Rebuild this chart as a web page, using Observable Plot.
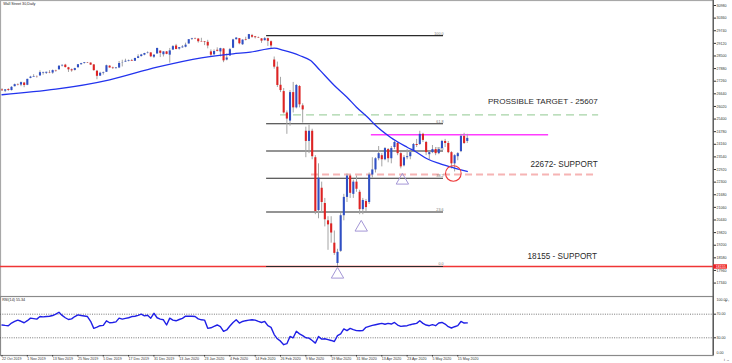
<!DOCTYPE html>
<html><head><meta charset="utf-8">
<script src="https://cdn.jsdelivr.net/npm/d3@7"></script>
<script src="https://cdn.jsdelivr.net/npm/@observablehq/plot@0.6"></script>
<style>
html,body{margin:0;padding:0;background:#fff;}
#chart{position:relative;width:732px;height:363px;overflow:hidden;}
#chart svg{display:block;}
</style></head><body><div id="chart"></div>
<script>
// ---------------- data ----------------
const title = "Wall Street 30,Daily";
const dateLabels = ["22 Oct 2019","1 Nov 2019","13 Nov 2019","25 Nov 2019","5 Dec 2019","17 Dec 2019","31 Dec 2019","13 Jan 2020","23 Jan 2020","4 Feb 2020","14 Feb 2020","26 Feb 2020","9 Mar 2020","19 Mar 2020","31 Mar 2020","13 Apr 2020","23 Apr 2020","5 May 2020","15 May 2020"];
const dateBars = [0,8,16,24,32,40,48,56,64,72,80,88,96,104,112,120,128,136,144];
const priceTicks = [30980,30360,29740,29120,28500,27880,27260,26640,26020,25400,24780,24160,23540,22920,22300,21680,21060,20440,19820,19200,18580,17960,17340];

const open = [26830,26770,26850,26800,26990,27090,27070,27170,27060,27400,
27460,27490,27520,27660,27650,27690,27660,27780,27820,28010,
28050,27920,27820,27790,27920,28070,28130,28165,28150,28060,
27750,27510,27650,27700,28000,27910,27880,27910,28140,28200,
28240,28270,28240,28380,28470,28540,28630,28650,28440,28600,
28740,28560,28700,28540,28790,28990,28840,28900,28930,29090,
29320,29350,29330,29210,29190,29170,28700,28560,28780,28700,
28840,28300,28500,28880,29300,29350,29050,29300,29320,29500,
29440,29400,29340,29250,29350,29200,28300,27950,27060,26750,
25700,25300,26700,25950,27000,26050,24800,24300,24800,23500,
20900,22000,21250,20400,20250,19300,18300,18900,20650,21550,
22600,21700,22300,21800,20950,21350,21300,22650,22900,23450,
23600,23400,23900,23450,24000,24200,23700,23100,23500,23550,
23850,24150,24150,24650,24250,23650,23750,23900,23700,23950,
24300,24200,23750,23200,23550,23800,24550,24300];
const high = [26890,26850,26890,26990,27120,27130,27220,27200,27360,27500,
27580,27520,27770,27700,27700,27780,27810,27800,28010,28060,
28090,27940,27860,27900,28080,28140,28180,28180,28160,28080,
27790,27700,27710,28050,28020,27950,27930,28230,28290,28340,
28300,28330,28380,28560,28580,28630,28700,28660,28560,28880,
28750,28710,28720,28870,29010,29070,28910,29010,29130,29300,
29370,29380,29360,29370,29210,29270,28800,28800,28900,28880,
28870,28600,28870,29320,29400,29360,29290,29420,29560,29560,
29460,29430,29350,29410,29380,29240,28450,28200,27450,26900,
25800,26800,27200,27100,27050,26150,25000,25100,24900,23600,
23200,22300,21500,20600,20600,19900,19000,20750,21700,22700,
22650,22400,22600,21900,21500,21450,22750,23500,23500,24050,
23700,24000,23950,24050,24300,24250,23750,23600,23900,23800,
24200,24400,24800,24700,24300,23800,24100,24000,24000,24350,
24400,24300,23800,23650,23750,24650,24700,24650];
const low = [26760,26700,26760,26780,26980,27030,26990,26940,27040,27380,
27460,27410,27500,27560,27590,27630,27600,27700,27810,27960,
27910,27690,27700,27760,27910,28050,28100,28130,28040,27750,
27330,27490,27560,27690,27900,27840,27850,27880,27960,28190,
28210,28230,28230,28370,28450,28510,28600,28420,28380,28580,
28420,28450,28560,28150,28780,28800,28790,28880,28900,29080,
29260,29300,29130,29180,29010,28850,28450,28510,28700,28450,
28170,28260,28480,28860,29280,29050,29020,29240,29300,29370,
29340,29360,29120,29240,28970,28850,27850,26950,26700,25650,
24650,25050,25700,25900,25950,25200,23500,23700,23400,20700,
20500,20800,20100,18950,19300,18700,18155,18850,20400,21300,
21500,21500,21800,20700,20700,20850,21200,22500,22750,23350,
23050,23350,23250,23200,23900,23600,22950,23050,23400,23400,
23800,24000,24100,24250,23600,23400,23700,23600,23650,23900,
24000,23700,22950,22800,23350,23750,24150,24200];
const close = [26790,26835,26805,26960,27090,27070,27190,27050,27350,27460,
27490,27480,27680,27690,27700,27670,27780,27760,28000,28040,
27930,27820,27770,27880,28070,28120,28165,28150,28050,27780,
27500,27650,27680,28020,27910,27880,27910,28130,28150,28240,
28270,28240,28380,28460,28550,28620,28650,28460,28540,28870,
28630,28700,28580,28750,28960,28820,28910,28940,29030,29300,
29350,29330,29200,29190,29160,28990,28540,28720,28730,28860,
28260,28400,28810,29290,29380,29100,29280,29270,29550,29420,
29400,29380,29230,29350,29220,28990,27950,27050,26800,25700,
25400,26700,25950,27050,26100,25850,24300,24800,23550,20850,
22500,21300,20450,20200,19800,18800,18850,20650,21550,22600,
21750,22300,21950,20950,21400,21050,22650,22900,23450,23700,
23400,23950,23450,23950,24250,23700,23050,23500,23550,23750,
24150,24100,24650,24350,23750,23750,23900,23700,23900,24300,
24200,23750,23200,23600,23700,24550,24200,24450];

// 50-period moving average (bar index, value)
const maBar = [0,34,49,63,73,78.5,84,86,89,94,97.5,100.5,105,109,112,116,117.5,122.7,128,131,134.3,138.5,142.7,147];
const maVal = [26595,27330,27950,28410,28607,28685,28852,28882,28770,28523,28277,27790,27050,26474,25982,25412,25167,24508,24017,23771,23447,23201,23004,22823];

// RSI(14), one value per bar
const rsi = [51.7,51,50.5,55,57.7,60,58,55.5,59,63.3,
62.5,61.7,66,65.5,66,66.5,67.7,70,73.3,68,
64,61,62,66,68.8,67.7,67,66,58,46,
48,50.5,51,58.8,55.5,56,57,63.3,61.7,63,
64,66,66.6,68,70,67.2,68.3,63.3,71.6,64,
61.7,60.5,51.7,63.3,60,58.8,61,63,66.6,66.6,
66.6,66,62,60.5,60,46,47,49.4,51.7,49,
41,43.3,50,56,60.5,55,57.7,59,60,60.5,
60,57.7,56,57.7,50.5,47.7,35.5,28.3,24.3,18.3,
20,32.2,30,41,36.7,33.8,30,29.5,25.5,21,
32.2,27.7,28.3,27,25.5,23.8,33.8,36.7,45,42.2,
46,43.8,42.2,42,42.2,47.7,49.4,51,52.2,53.3,
54.4,53,54.4,53.3,56,51.6,49.4,50,50.5,52.2,
53.5,54.4,58.8,54.4,51.6,50.5,52.2,50.5,55,56,
53.3,48.8,46.6,48.8,50.5,57.7,55,55.3];
const rsiLabel = "RSI(14) 55.34";
const rsiLevels = [70,30];

// Fibonacci retracement levels and drawn levels
const fibLabels = ["0.0","23.6","38.2","50.0","61.8","100.0"];
const fibPrices = [18155,20832,22489,23828,25166,29500];
const targetPrice = 25607;
const supportPrice = 22672;
const lowSupport = 18155;
const resistancePrice = 24630;
const triBars = [106,113.5,126.5];
const triPrices = [17760,20070,22380];
const circleBar = [142.6];
const circlePrice = [22725];
const noteTarget = "PROSSIBLE TARGET - 25607";
const noteSupport = "22672- SUPPORT";
const noteLow = "18155 - SUPPORT";

// ---------------- chart ----------------
const FONT = "Arial, 'Liberation Sans', Helvetica, sans-serif";
const xDomain = [-0.474, 224.7];
const yDomain = [16680, 31226];
const bars = close.map((c, i) => ({i, o: open[i], h: high[i], l: low[i], c}));
const ma = maBar.map((b, k) => ({b, v: maVal[k]}));
const fib = fibPrices.map((p, k) => ({p, t: fibLabels[k]}));
const tri = triBars.map((b, k) => ({b, p: triPrices[k]}));
const circ = circleBar.map((b, k) => ({b, p: circlePrice[k]}));
const rsiPts = rsi.map((v, i) => ({i, v}));
const FIB0 = 83.6, FIB1 = 139.5;

const main = Plot.plot({
  width: 732, height: 296,
  marginTop: 0, marginBottom: 0, marginLeft: 0, marginRight: 19.3,
  x: {domain: xDomain, axis: null},
  y: {domain: yDomain, axis: null},
  style: {fontFamily: FONT, background: "#fff"},
  marks: [
    Plot.frame({stroke: "#a8a8a8", strokeWidth: 1.2}),
    Plot.ruleY([lowSupport], {stroke: "#ef3535", strokeWidth: 1.5}),
    Plot.ruleY([targetPrice], {x1: () => 88, x2: () => 188.5, stroke: "#a6d3a6", strokeWidth: 1.4, strokeDasharray: "8,5"}),
    Plot.ruleY([supportPrice], {x1: () => 97.8, x2: () => 187, stroke: "#f6b4b4", strokeWidth: 2, strokeDasharray: "7,4"}),
    Plot.ruleY(fib, {y: "p", x1: () => FIB0, x2: () => FIB1, stroke: "#2b2b2b", strokeWidth: 1.1}),
    Plot.text(fib, {x: () => FIB1, y: "p", text: "t", textAnchor: "end", dy: -2.3, fontSize: 3.7, fill: "#777"}),
    Plot.ruleY([resistancePrice], {x1: () => 116.7, x2: () => 172.7, stroke: "#ff3cff", strokeWidth: 1.4}),
    Plot.ruleX(bars, {x: "i", y1: "l", y2: "h", stroke: "#a4a4a4", strokeWidth: 1}),
    Plot.ruleX(bars, {x: "i", y1: "o", y2: "c", stroke: d => d.c >= d.o ? "#2f4fc4" : "#de2323", strokeWidth: 2.1}),
    Plot.line(ma, {x: "b", y: "v", stroke: "#2233ee", strokeWidth: 1.3, curve: "monotone-x"}),
    Plot.dot(tri, {x: "b", y: "p", symbol: "triangle", r: 4.6, stroke: "#a497d6", fill: "none", strokeWidth: 1}),
    Plot.dot(circ, {x: "b", y: "p", r: 7.8, stroke: "#ee3b3b", fill: "none", strokeWidth: 1.1}),
    Plot.text([noteTarget], {x: () => 188.2, y: () => targetPrice, textAnchor: "end", dy: -13, fontSize: 8.1, fill: "#2a2a2a"}),
    Plot.text([noteSupport], {x: () => 188.2, y: () => supportPrice, textAnchor: "end", dy: -10, fontSize: 8.2, fill: "#2a2a2a"}),
    Plot.text([noteLow], {x: () => 188, y: () => lowSupport, textAnchor: "end", dy: -9.7, fontSize: 8.2, fill: "#2a2a2a"}),
    Plot.ruleX([xDomain[1]], {stroke: "#3a3a3a", strokeWidth: 1}),
    Plot.axisY(priceTicks, {anchor: "right", tickSize: 2.4, tickPadding: 1, fontSize: 3.6, fill: "#333", stroke: "#333", tickFormat: d => String(d)}),
    Plot.ruleY([lowSupport], {x1: () => xDomain[1] + 0.15, x2: () => xDomain[1] + 4.5, stroke: "#ee2020", strokeWidth: 4.4}),
    Plot.text([String(lowSupport)], {frameAnchor: "right", y: () => lowSupport, textAnchor: "start", dx: 2.6, fontSize: 3.6, fill: "#fff"}),
    Plot.text([title], {frameAnchor: "top-left", lineAnchor: "top", dx: 2.7, dy: 1.6, fontSize: 3.7, fill: "#222"})
  ]
});

const rsiPlot = Plot.plot({
  width: 732, height: 67,
  marginTop: 0, marginBottom: 8, marginLeft: 0, marginRight: 19.3,
  x: {domain: xDomain, axis: null},
  y: {domain: [0, 100], axis: null},
  style: {fontFamily: FONT, background: "#fff"},
  marks: [
    Plot.frame({stroke: "#8a8a8a", strokeWidth: 1.2}),
    Plot.ruleY(rsiLevels, {stroke: "#555", strokeWidth: 0.8, strokeDasharray: "1,1.3"}),
    Plot.line(rsiPts, {x: "i", y: "v", stroke: "#1f1fe6", strokeWidth: 1.4}),
    Plot.text([rsiLabel], {frameAnchor: "top-left", lineAnchor: "top", dx: 1.7, dy: 2, fontSize: 3.7, fill: "#222"}),
    Plot.ruleX([xDomain[1]], {stroke: "#3a3a3a", strokeWidth: 1}),
    Plot.axisY(rsiLevels, {anchor: "right", tickSize: 2.4, tickPadding: 1, fontSize: 3.6, fill: "#333", stroke: "#333", tickFormat: d => d.toFixed(2)}),
    Plot.text([100], {x: () => xDomain[1], y: d => d, text: d => d.toFixed(2), textAnchor: "start", dx: 3.4, dy: 3.6, fontSize: 3.6, fill: "#333"}),
    Plot.text([0], {x: () => xDomain[1], y: d => d, text: d => d.toFixed(2), textAnchor: "start", dx: 3.4, dy: -2.6, fontSize: 3.6, fill: "#333"}),
    Plot.axisX(dateBars, {anchor: "bottom", tickSize: 1.5, tickPadding: 0.8, textAnchor: "start", fontSize: 3.6, fill: "#333", stroke: "#333", tickFormat: d => dateLabels[dateBars.indexOf(d)]})
  ]
});

const root = document.getElementById("chart");
root.appendChild(main);
root.appendChild(rsiPlot);
</script>
</body></html>
